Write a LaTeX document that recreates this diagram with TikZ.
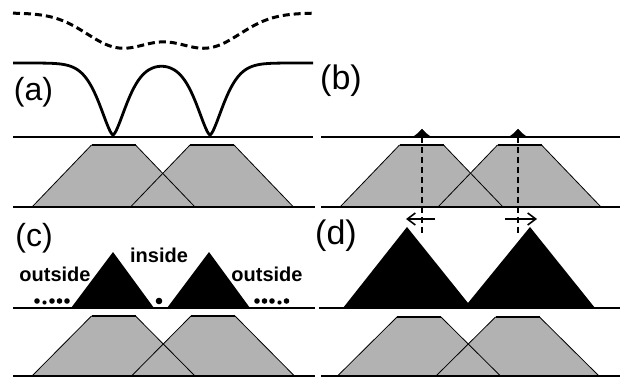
\documentclass[tikz,border=0pt]{standalone}
\usepackage{fontspec}
\setmainfont{Liberation Sans}
\usetikzlibrary{arrows.meta}
\tikzset{
  baseline rule/.style={line width=1.4pt},
  trapfill/.style={fill=gray!60},
  trapside/.style={line width=0.8pt},
  traptop/.style={line width=1.4pt},
  solidcurve/.style={line width=2.8pt, line join=round},
  dashcurve/.style={line width=3pt, dash pattern=on 7pt off 4pt},
  panellabel/.style={inner sep=0pt, font=\fontsize{32}{36}\selectfont},
  wordlabel/.style={inner sep=0pt, anchor=base, font=\fontsize{20}{24}\selectfont\bfseries},
  guide/.style={line width=1.3pt, dash pattern=on 6pt off 4pt},
  shiftarrow/.style={line width=1.6pt, -{Straight Barb[length=8pt,width=12pt]}},
}
% two overlapping trapezoids: centres #1,#2, top y #3, bottom y #4
\newcommand\trappair[4]{%
  \fill[trapfill] (#1-81.5,#4) -- (#1-22,#3) -- (#1+22,#3) -- (#1+81.5,#4) -- cycle;
  \fill[trapfill] (#2-81.5,#4) -- (#2-22,#3) -- (#2+22,#3) -- (#2+81.5,#4) -- cycle;
  \draw[trapside] (#1-81.5,#4) -- (#1-22,#3) (#1+22,#3) -- (#1+81.5,#4);
  \draw[trapside] (#2-81.5,#4) -- (#2-22,#3) (#2+22,#3) -- (#2+81.5,#4);
  \draw[traptop] (#1-22,#3) -- (#1+22,#3) (#2-22,#3) -- (#2+22,#3);
}
\begin{document}
\begin{tikzpicture}[x=1pt,y=-1pt]
\useasboundingbox (0,0) rectangle (621,379);

% ---------- trapezoids ----------
\trappair{113.5}{212}{145}{207}
\trappair{421.5}{519.5}{145}{207}
\trappair{113.5}{213}{316}{376}
\trappair{419}{517.5}{317}{376}

% ---------- panel (a) curves ----------
\draw[dashcurve] plot[domain=13:313, samples=150]
  (\x, {13+34*(exp(-((\x-120)/47)*((\x-120)/47))+exp(-((\x-207)/47)*((\x-207)/47)))});
\draw[solidcurve] plot[domain=13:313, samples=301]
  (\x, {63+72*(exp(0-pow(abs(\x-113)+0.01,1.5)/pow(20,1.5))+exp(0-pow(abs(\x-210)+0.01,1.5)/pow(20,1.5)))});

% ---------- panel (b) bumps and guides ----------
\fill (411,137.5) .. controls (415,136) and (418,133) .. (422,129)
      .. controls (426,133) and (429,136) .. (433,137.5) -- cycle;
\fill (507,137.5) .. controls (511,136) and (514,133) .. (518,129)
      .. controls (522,133) and (525,136) .. (529,137.5) -- cycle;
\fill (415,137.5) -- (422,129) -- (429,137.5) -- cycle;
\fill (511,137.5) -- (518,129) -- (525,137.5) -- cycle;
\coordinate (g1t) at (422,137);
\coordinate (g1b) at (422,233);
\coordinate (g2t) at (518,137);
\coordinate (g2b) at (518,233);
\draw[guide] (g1t) -- (g1b);
\draw[guide] (g2t) -- (g2b);

% ---------- panel (c) ----------
\fill (71,308) -- (113,252) -- (154,308) -- cycle;
\fill (167,308) -- (209,252) -- (250,308) -- cycle;
\foreach \cx in {37,52,59.5,67} \fill (\cx,301) circle (2.8);
\fill (44.5,302.5) circle (2.1);
\foreach \cx in {257,264.5,272,286.5} \fill (\cx,301) circle (2.8);
\fill (279.5,302.5) circle (2.1);
\fill (159,301) circle (3.3);
\node[wordlabel] (inside) at (159,263) {inside};
\node[wordlabel] (outL) at (55,282) {outside};
\node[wordlabel] (outR) at (267,282) {outside};

% ---------- panel (d) ----------
\fill (343,308) -- (407,227) -- (468,303) -- (530,227) -- (595,308) -- cycle;
\coordinate (a1s) at (435,219);
\coordinate (a1e) at (406,219);
\coordinate (a2s) at (505,219);
\coordinate (a2e) at (537,219);
\draw[shiftarrow] (a1s) -- (a1e);
\draw[shiftarrow] (a2s) -- (a2e);

% ---------- horizontal rules ----------
\draw[baseline rule] (13,137) -- (313,137) (321,137) -- (620,137);
\draw[baseline rule] (13,207) -- (315,207) (321,207) -- (620,207);
\draw[baseline rule] (13,308) -- (315,308) (319,308) -- (620,308);
\draw[baseline rule] (13,376) -- (315,376) (321,376) -- (620,376);

% ---------- panel labels ----------
\node[panellabel] (la) at (33.5,92) {(a)};
\node[panellabel, font=\fontsize{34}{38}\selectfont] (lb) at (341,81) {(b)};
\node[panellabel] (lc) at (34,238) {(c)};
\node[panellabel, font=\fontsize{34}{38}\selectfont] (ld) at (336,236) {(d)};
\end{tikzpicture}
\end{document}
